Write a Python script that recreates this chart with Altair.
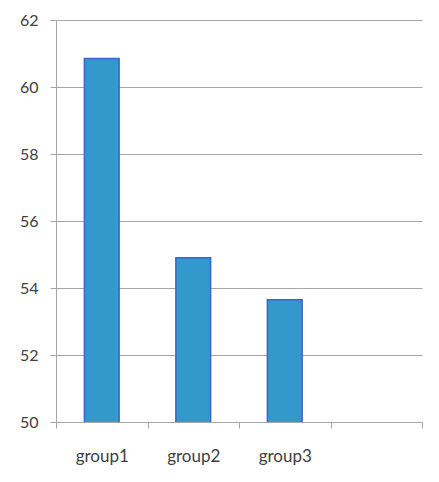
import altair as alt
import pandas as pd

categories = ["group1", "group2", "group3"]
values = [60.85, 54.9, 53.65]
domain = ["group1", "group2", "group3", " "]

df = pd.DataFrame({"group": categories, "value": values})

chart = alt.Chart(df).mark_bar(
    color="#3399CC", stroke="#4262CC", strokeWidth=1.5, clip=True,
    width=alt.RelativeBandSize(0.38)
).encode(
    x=alt.X("group:N", scale=alt.Scale(domain=domain, paddingInner=0, paddingOuter=0),
            sort=None,
            axis=alt.Axis(title=None, labelAngle=0, tickBand="extent", tickSize=6,
                          labelPadding=20, labelFontSize=17, domainColor="#A6A6A6",
                          tickColor="#A6A6A6", grid=False)),
    y=alt.Y("value:Q", scale=alt.Scale(domain=[50, 62], nice=False, zero=False),
            axis=alt.Axis(title=None, values=[50, 52, 54, 56, 58, 60, 62], tickSize=6,
                          labelPadding=12, labelFontSize=16, domainColor="#A6A6A6",
                          tickColor="#A6A6A6", gridColor="#A6A6A6", gridWidth=1)),
).properties(
    width=366, height=402,
    padding={"left": 11, "top": 4, "right": 5, "bottom": 5}
).configure_axis(
    labelFont="Lato", labelColor="#404040"
).configure_view(stroke=None)

chart.save("out.html", embed_options={"renderer": "svg", "actions": False})
